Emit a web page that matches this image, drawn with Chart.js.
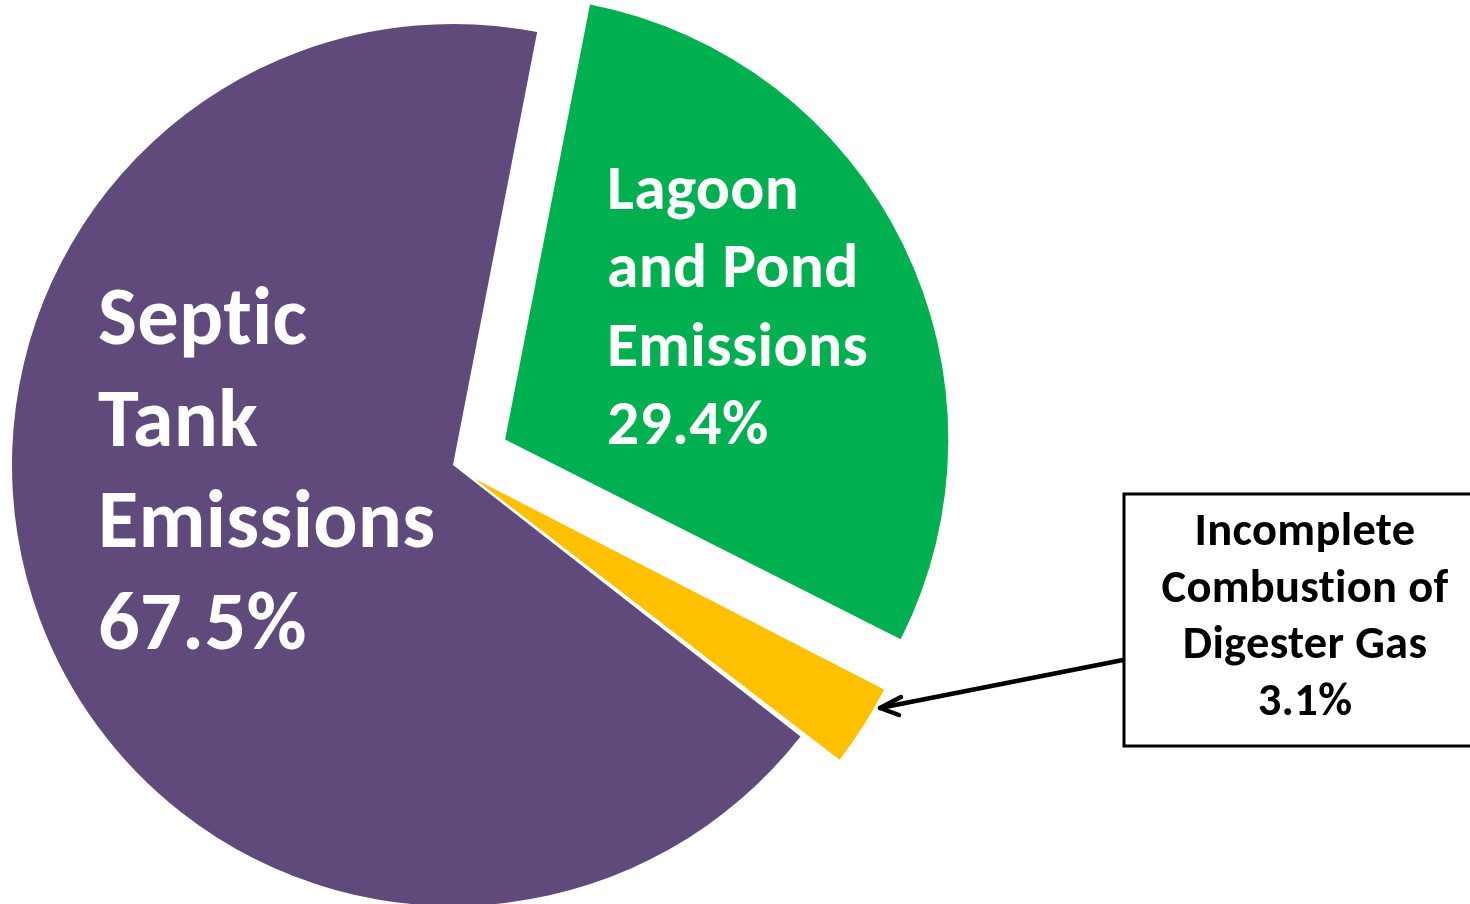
<!DOCTYPE html>
<html lang="en">
<head>
    <meta charset="UTF-8">
    <title>Emissions pie</title>
    <style>
        html, body { margin: 0; padding: 0; background: #ffffff; }
        #wrap { width: 1470px; height: 904px; position: relative; }
    </style>
</head>
<body>
    <div id="wrap"><canvas id="emissions_pie"></canvas></div>
</body>
<script src="https://cdn.jsdelivr.net/npm/chart.js@4.4.1/dist/chart.umd.min.js"></script>
<script>
    // clockwise from the top (after rotation)
    const categories = [
        ['Lagoon', 'and Pond', 'Emissions'],
        ['Incomplete', 'Combustion of', 'Digester Gas'],
        ['Septic', 'Tank', 'Emissions']
    ];
    const shares = [29.4, 3.1, 67.5];
    const colours = ['#00B050', '#FFC000', '#604A7B'];
    // how far each slice is pulled out (px)
    const explode = [58, 25, 0];

    const FONT = '"Carlito", "Lato", "Open Sans", sans-serif';

    function lines(i) {
        return categories[i].concat([shares[i].toFixed(1) + '%']);
    }

    // draw a block of text, sized so the widest line fits a given width
    function textBlock(ctx, txt, x, y, lineH, width, color, align) {
        ctx.save();
        // a tiny letter spacing keeps Lato from using its "ti" ligature
        ctx.letterSpacing = '0.3px';
        ctx.font = 'bold 100px ' + FONT;
        const widest = Math.max(...txt.map(t => ctx.measureText(t).width));
        const size = 100 * width / widest;
        ctx.font = 'bold ' + size.toFixed(1) + 'px ' + FONT;
        ctx.fillStyle = color;
        ctx.textAlign = align;
        ctx.textBaseline = 'alphabetic';
        txt.forEach((t, k) => ctx.fillText(t, x, y + k * lineH));
        ctx.restore();
    }

    const labelPlugin = {
        id: 'labels',
        afterDraw(chart) {
            const ctx = chart.ctx;
            textBlock(ctx, lines(2), 98, 344, 101.7, 337, '#ffffff', 'left');
            textBlock(ctx, lines(0), 607, 209, 78.4, 260, '#ffffff', 'left');

            // callout box for the small slice
            ctx.save();
            ctx.fillStyle = '#ffffff';
            ctx.fillRect(1124, 494, 360, 252);
            ctx.strokeStyle = '#000000';
            ctx.lineWidth = 3;
            ctx.strokeRect(1124, 494, 360, 252);

            // arrow
            ctx.lineWidth = 4.5;
            ctx.lineCap = 'round';
            ctx.lineJoin = 'round';
            ctx.beginPath();
            ctx.moveTo(1123, 660);
            ctx.lineTo(880, 708);
            ctx.stroke();
            ctx.beginPath();
            ctx.moveTo(901, 697);
            ctx.lineTo(880, 708);
            ctx.lineTo(899, 715);
            ctx.stroke();
            ctx.restore();

            textBlock(ctx, lines(1), 1305, 545, 56.7, 285, '#000000', 'center');
        }
    };

    const ctx = document.getElementById('emissions_pie').getContext('2d');

    new Chart(ctx, {
        type: 'pie',
        data: {
            labels: categories,
            datasets: [{
                data: shares,
                backgroundColor: colours,
                borderWidth: 0,
                // Chart.js moves an arc by offset / 4
                offset: explode.map(e => e * 4)
            }]
        },
        options: {
            responsive: true,
            maintainAspectRatio: false,
            animation: false,
            rotation: 11,
            radius: 441,
            layout: {
                padding: { left: 0, right: 564, top: 26, bottom: 0 }
            },
            plugins: {
                legend: { display: false },
                tooltip: { enabled: false }
            },
            events: []
        },
        plugins: [labelPlugin]
    });
</script>
</html>
